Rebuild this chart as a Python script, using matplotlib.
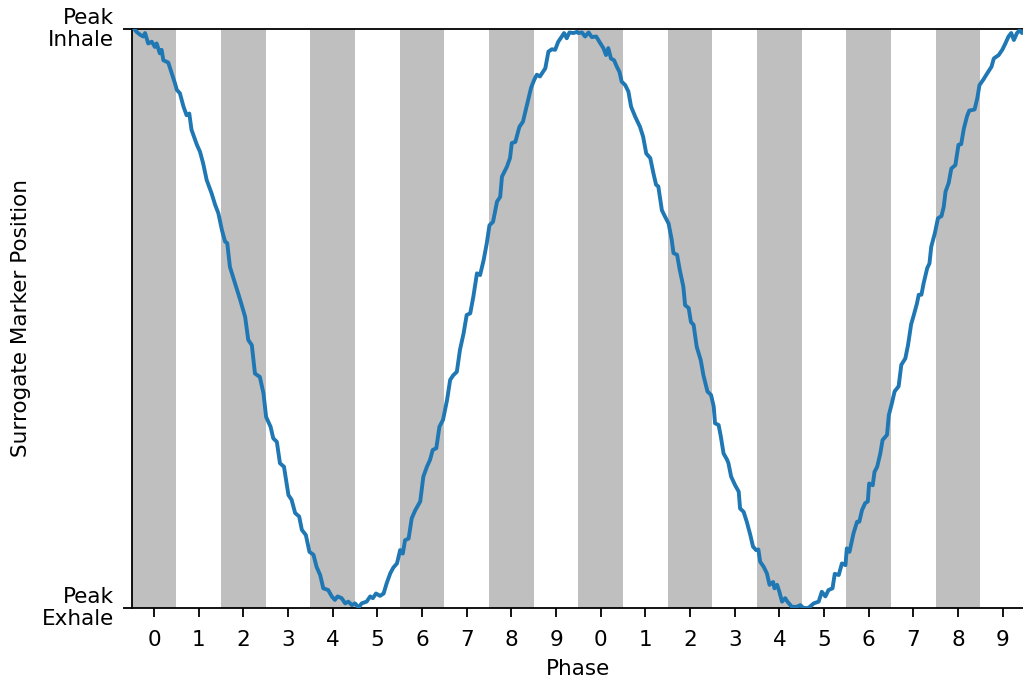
import matplotlib
matplotlib.use("Agg")
import matplotlib.pyplot as plt
import numpy as np

# Breathing trace over two respiratory cycles (phase bins 0-9, repeated)
cycle_time = [
    -0.43, -0.39, -0.31, -0.24, -0.20, -0.13, -0.05, 0.02, 0.06, 0.13, 0.17, 0.21,
    0.32, 0.40, 0.47, 0.51, 0.58, 0.66, 0.73, 0.79, 0.84, 0.96, 1.03, 1.10, 1.18,
    1.29, 1.37, 1.44, 1.52, 1.59, 1.64, 1.70, 1.93, 2.04, 2.11, 2.19, 2.26, 2.37,
    2.45, 2.51, 2.61, 2.67, 2.75, 2.82, 2.91, 3.01, 3.08, 3.16, 3.25, 3.31, 3.40,
    3.48, 3.57, 3.64, 3.72, 3.79, 3.90, 3.98, 4.05, 4.11, 4.20, 4.28, 4.35, 4.43,
    4.50, 4.58, 4.65, 4.76, 4.84, 4.90, 4.97, 5.06, 5.14, 5.21, 5.29, 5.36, 5.44,
    5.51, 5.57, 5.62, 5.70, 5.77, 5.85, 5.96, 6.03, 6.11, 6.18, 6.24, 6.32, 6.39,
    6.47, 6.56, 6.63, 6.70, 6.78, 6.85, 6.93, 7.00, 7.08, 7.15, 7.23, 7.30, 7.38,
    7.45, 7.51, 7.59, 7.68, 7.75, 7.79, 7.90, 7.97, 8.01, 8.09, 8.18, 8.26, 8.35,
    8.44, 8.51, 8.57, 8.64, 8.76, 8.83, 8.91, 8.98, 9.05, 9.13, 9.18, 9.24, 9.30,
    9.39, 9.47, 9.50, 9.58, 9.65, 9.73, 9.80, 9.90, 9.97, 10.06, 10.12, 10.17,
    10.23, 10.30, 10.36, 10.42, 10.47, 10.55, 10.62, 10.68, 10.77, 10.88, 10.95,
    11.02, 11.11, 11.18, 11.24, 11.29, 11.37, 11.44, 11.52, 11.59, 11.63, 11.71,
    11.77, 11.85, 11.89, 11.97, 12.02, 12.08, 12.15, 12.24, 12.30, 12.39, 12.47,
    12.53, 12.56, 12.64, 12.69, 12.75, 12.83, 12.86, 12.92, 13.01, 13.09, 13.12,
    13.20, 13.27, 13.35, 13.41, 13.48, 13.53, 13.57, 13.65, 13.72, 13.78, 13.86,
    13.89, 13.95, 14.00, 14.06, 14.13, 14.18, 14.28, 14.39, 14.47, 14.54, 14.65,
    14.77, 14.88, 14.95, 15.03, 15.10, 15.19, 15.24, 15.33, 15.40, 15.48, 15.51,
    15.57, 15.66, 15.74, 15.79, 15.85, 15.92, 15.98, 16.01, 16.09, 16.13, 16.19,
    16.26, 16.31, 16.41, 16.45, 16.52, 16.58, 16.67, 16.73, 16.82, 16.88, 16.95,
    17.01, 17.08, 17.12, 17.18, 17.23, 17.31, 17.36, 17.40, 17.48, 17.55, 17.63,
    17.68, 17.72, 17.79, 17.85, 17.94, 18.01, 18.07, 18.13, 18.20, 18.25, 18.37,
    18.43, 18.48, 18.57, 18.65, 18.75, 18.80, 18.91, 18.99, 19.06, 19.13, 19.19,
    19.25, 19.32, 19.38, 19.43, 19.48,
]
marker_position = [
    0.999, 0.995, 0.990, 0.987, 0.993, 0.975, 0.978, 0.969, 0.975, 0.958, 0.964, 0.946,
    0.942, 0.923, 0.906, 0.895, 0.889, 0.866, 0.851, 0.854, 0.826, 0.800, 0.788, 0.768, 0.739,
    0.716, 0.696, 0.682, 0.653, 0.633, 0.630, 0.589, 0.532, 0.503, 0.463, 0.454, 0.405, 0.399,
    0.371, 0.330, 0.313, 0.293, 0.287, 0.250, 0.244, 0.195, 0.187, 0.164, 0.158, 0.135, 0.126,
    0.097, 0.092, 0.071, 0.057, 0.034, 0.031, 0.020, 0.014, 0.020, 0.017, 0.008, 0.011, 0.005,
    0.008, 0.001, 0.008, 0.011, 0.020, 0.017, 0.025, 0.021, 0.025, 0.043, 0.060, 0.070, 0.077,
    0.100, 0.094, 0.117, 0.120, 0.155, 0.169, 0.184, 0.227, 0.244, 0.256, 0.273, 0.276, 0.313,
    0.325, 0.359, 0.394, 0.402, 0.408, 0.446, 0.474, 0.506, 0.509, 0.538, 0.578, 0.575, 0.601,
    0.630, 0.661, 0.667, 0.702, 0.710, 0.745, 0.762, 0.777, 0.803, 0.805, 0.831, 0.840, 0.869,
    0.898, 0.912, 0.921, 0.918, 0.932, 0.961, 0.965, 0.964, 0.978, 0.987, 0.993, 0.984, 0.994,
    0.993, 0.995, 0.993, 0.994, 0.987, 0.994, 0.986, 0.987, 0.978, 0.967, 0.955, 0.967,
    0.949, 0.946, 0.935, 0.926, 0.909, 0.903, 0.892, 0.866, 0.849, 0.831, 0.814,
    0.785, 0.777, 0.751, 0.731, 0.728, 0.687, 0.676, 0.664, 0.636, 0.613, 0.610,
    0.584, 0.555, 0.523, 0.518, 0.494, 0.489, 0.451, 0.428, 0.402, 0.374, 0.368,
    0.348, 0.319, 0.316, 0.296, 0.267, 0.256, 0.250, 0.227, 0.212, 0.201, 0.172,
    0.166, 0.149, 0.126, 0.106, 0.100, 0.101, 0.080, 0.071, 0.060, 0.040, 0.045,
    0.034, 0.040, 0.028, 0.011, 0.017, 0.011, 0.002, 0.002, 0.005, 0.000, 0.000,
    0.008, 0.011, 0.028, 0.020, 0.031, 0.034, 0.059, 0.057, 0.077, 0.074, 0.103,
    0.097, 0.129, 0.149, 0.149, 0.169, 0.181, 0.184, 0.215, 0.212, 0.235, 0.244,
    0.267, 0.290, 0.299, 0.333, 0.354, 0.374, 0.383, 0.420, 0.431, 0.454, 0.490,
    0.506, 0.526, 0.541, 0.541, 0.561, 0.587, 0.595, 0.624, 0.647, 0.673, 0.677,
    0.693, 0.719, 0.734, 0.759, 0.765, 0.800, 0.801, 0.828, 0.849, 0.859, 0.861,
    0.880, 0.903, 0.913, 0.923, 0.935, 0.949, 0.955, 0.964, 0.975, 0.987, 0.993,
    0.981, 0.993, 0.998, 0.993, 0.997,
]

phase_labels = ["0", "1", "2", "3", "4", "5", "6", "7", "8", "9"]
n_cycles = 2
shaded_phases = [0, 2, 4, 6, 8]
y_labels = ["Peak\nExhale", "Peak\nInhale"]

FS = 15.5

fig = plt.figure(figsize=(10.23, 6.82), dpi=100)
ax = fig.add_axes([0.1287, 0.1085, 0.8733, 0.849])

# alternating shaded phase bins
for c in range(n_cycles):
    for p in shaded_phases:
        centre = c * len(phase_labels) + p
        ax.axvspan(centre - 0.5, centre + 0.5, color="#bfbfbf", lw=0, zorder=0)

ax.plot(cycle_time, marker_position, color="#1f77b4", lw=2.8, zorder=3)

n_bins = n_cycles * len(phase_labels)
ax.set_xlim(-0.5, n_bins - 0.5)
ax.set_ylim(0, 1)
ax.set_xticks(np.arange(n_bins))
ax.set_xticklabels(phase_labels * n_cycles)
ax.set_yticks([0, 1])
ax.set_yticklabels(y_labels, ha="right", va="center", linespacing=1.1)

for side in ("left", "bottom", "top"):
    ax.spines[side].set_linewidth(1.3)
ax.spines["right"].set_visible(False)
ax.tick_params(axis="both", length=6.5, width=1.3, labelsize=FS)
ax.tick_params(axis="x", pad=9)
ax.tick_params(axis="y", pad=6)

ax.set_xlabel("Phase", fontsize=FS, labelpad=7)
ax.set_ylabel("Surrogate Marker Position", fontsize=FS, labelpad=8)

fig.savefig("out.png", dpi=100)
